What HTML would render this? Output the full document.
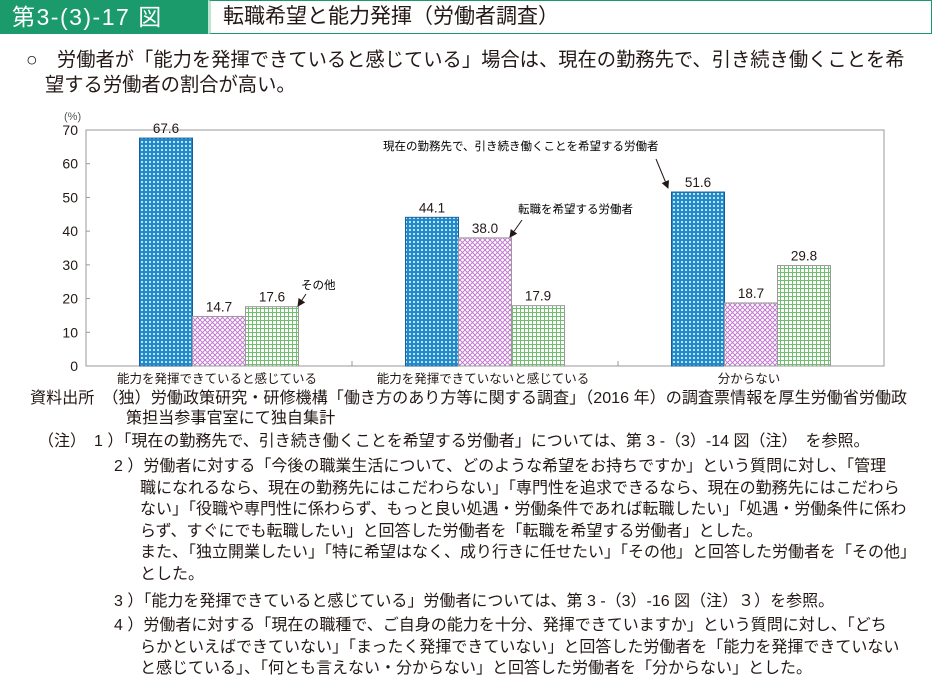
<!DOCTYPE html>
<html><head><meta charset="utf-8"><style>
body{margin:0;width:932px;height:695px;background:#fff;font-family:"Liberation Sans","Noto Sans CJK JP",sans-serif;color:#231815;position:relative;overflow:hidden}
.a{position:absolute;white-space:nowrap}
.n{font-size:16px;line-height:21.6px}
</style></head><body>
<div class="a" style="left:0;top:0;width:208px;height:34px;background:#1b9a6b;color:#fff;font-size:23px;line-height:34px;padding-left:12px;letter-spacing:1.5px;box-sizing:border-box">第3-(3)-17 図</div>
<div class="a" style="left:208px;top:0;width:724px;height:34px;border:1px solid #1b9a6b;border-left:3px solid #bfe3d3;box-sizing:border-box;font-size:21px;line-height:32px;padding-left:12px">転職希望と能力発揮（労働者調査）</div>
<div class="a" style="left:26px;top:48px;font-size:19.3px;line-height:25px">○　労働者が「能力を発揮できていると感じている」場合は、現在の勤務先で、引き続き働くことを希<br><span style="padding-left:19px">望する労働者の割合が高い。</span></div>
<svg class="a" style="left:0;top:100px" width="932" height="290">
<defs>
<pattern id="pb" width="4" height="4" patternUnits="userSpaceOnUse"><rect width="4" height="4" fill="#1f8ac9"/><circle cx="2" cy="2" r="1.1" fill="#cfeaf7"/></pattern>
<pattern id="pp" width="5" height="5" patternUnits="userSpaceOnUse"><rect width="5" height="5" fill="#fff"/><path d="M0 0L5 5M5 0L0 5" stroke="#c37ad0" stroke-width="1"/></pattern>
<pattern id="pg" width="4" height="4" patternUnits="userSpaceOnUse"><rect width="4" height="4" fill="#fff"/><path d="M0 0.5H4M0.5 0V4" stroke="#6fbf6f" stroke-width="1"/></pattern>
<marker id="ar" markerWidth="8" markerHeight="8" refX="7" refY="4" orient="auto"><path d="M0 0L8 4L0 8z" fill="#231815"/></marker>
</defs>
<g id="g"></g>
<text x="64" y="20" font-size="11" fill="#555">(%)</text>
<text x="383" y="50" font-size="11.5">現在の勤務先で、引き続き働くことを希望する労働者</text>
<line x1="656" y1="59" x2="668" y2="88" stroke="#231815" marker-end="url(#ar)"/>
<text x="518" y="113" font-size="11.5">転職を希望する労働者</text>
<line x1="522" y1="120" x2="510" y2="137" stroke="#231815" marker-end="url(#ar)"/>
<text x="301" y="189" font-size="11.5">その他</text>
<line x1="306" y1="194" x2="298" y2="206" stroke="#231815" marker-end="url(#ar)"/>
</svg>
<div class="a" style="left:30px;top:388px;font-size:16.1px;line-height:20px">資料出所　（独）労働政策研究・研修機構「働き方のあり方等に関する調査」（2016 年）の調査票情報を厚生労働省労働政<br><span style="padding-left:96px">策担当参事官室にて独自集計</span></div>
<div class="a n" style="left:38px;top:431px">（注）　1 ）「現在の勤務先で、引き続き働くことを希望する労働者」については、第 3 -（3）-14 図（注）　を参照。</div>
<div class="a n" style="left:114px;top:456px">2 ）労働者に対する「今後の職業生活について、どのような希望をお持ちですか」という質問に対し、「管理<br><span style="padding-left:26px">職になれるなら、現在の勤務先にはこだわらない」「専門性を追求できるなら、現在の勤務先にはこだわら</span><br><span style="padding-left:26px">ない」「役職や専門性に係わらず、もっと良い処遇・労働条件であれば転職したい」「処遇・労働条件に係わ</span><br><span style="padding-left:26px">らず、すぐにでも転職したい」と回答した労働者を「転職を希望する労働者」とした。</span><br><span style="padding-left:26px">また、「独立開業したい」「特に希望はなく、成り行きに任せたい」「その他」と回答した労働者を「その他」</span><br><span style="padding-left:26px">とした。</span></div>
<div class="a n" style="left:114px;top:591px">3 ）「能力を発揮できていると感じている」労働者については、第 3 -（3）-16 図（注）３）を参照。</div>
<div class="a n" style="left:114px;top:615px">4 ）労働者に対する「現在の職種で、ご自身の能力を十分、発揮できていますか」という質問に対し、「どち<br><span style="padding-left:26px">らかといえばできていない」「まったく発揮できていない」と回答した労働者を「能力を発揮できていない</span><br><span style="padding-left:26px">と感じている」、「何とも言えない・分からない」と回答した労働者を「分からない」とした。</span></div>
<script>
const categories=["能力を発揮できていると感じている","能力を発揮できていないと感じている","分からない"];
const stayValues=[67.6,44.1,51.6];
const changeValues=[14.7,38.0,18.7];
const otherValues=[17.6,17.9,29.8];
const yTicks=[0,10,20,30,40,50,60,70];
const NS="http://www.w3.org/2000/svg";
const g=document.getElementById('g');
const L=86,R=884,T=30,B=266,yMax=70;
const y=v=>B-(v/yMax)*(B-T);
const gw=(R-L)/categories.length;
const cx=i=>L+gw*(i+0.5);
const bw=53;
function mk(t,a){const e=document.createElementNS(NS,t);for(const k in a)e.setAttribute(k,a[k]);g.appendChild(e);return e;}
let f=mk('rect',{x:L,y:T,width:R-L,height:B-T,fill:'none',stroke:'#999'});


yTicks.forEach(t=>{
 const tl=mk('text',{x:L-8,y:y(t)+5,'font-size':14,'text-anchor':'end',fill:'#231815'});tl.textContent=t;
 
 
 mk('line',{x1:L,x2:L+4,y1:y(t),y2:y(t),stroke:'#999'});
});
for(let i=1;i<categories.length;i++)mk('line',{x1:L+gw*i,x2:L+gw*i,y1:B,y2:B-5,stroke:'#999'});
const series=[[stayValues,'url(#pb)','#1a5f9a','stay'],[changeValues,'url(#pp)','#999','change'],[otherValues,'url(#pg)','#999','other']];
categories.forEach((c,i)=>{
 series.forEach((s,j)=>{
  const v=s[0][i],x=cx(i)-bw*1.5+bw*j;
  const r=mk('rect',{x:x,y:y(v),width:bw,height:B-y(v),fill:s[1],stroke:s[2],'stroke-width':1});
  
  
  const t=mk('text',{x:x+bw/2,y:y(v)-5,'font-size':13.5,'text-anchor':'middle',fill:'#231815'});t.textContent=v.toFixed(1);
  
  
 });
 const cl=mk('text',{x:cx(i)-2,y:B+17,'font-size':12.5,'text-anchor':'middle',fill:'#231815'});cl.textContent=c;
 
 
});
</script>
</body></html>
